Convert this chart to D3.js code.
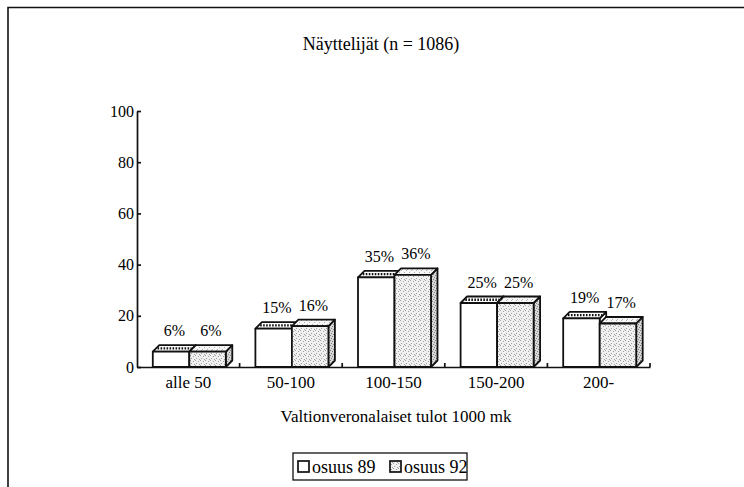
<!DOCTYPE html>
<html>
<head>
<meta charset="utf-8">
<script src="https://cdn.jsdelivr.net/npm/d3@7"></script>
<style>
  body { margin: 0; background: #fff; }
  svg text { font-family: "Liberation Serif", "Times New Roman", "DejaVu Serif", serif; fill: #000; }
</style>
</head>
<body>
<svg id="chart"></svg>
<script>
const categories = ["alle 50", "50-100", "100-150", "150-200", "200-"];
const osuus89 = [6, 15, 35, 25, 19];
const osuus92 = [6, 16, 36, 25, 17];
const seriesNames = ["osuus 89", "osuus 92"];
const yTicks = [0, 20, 40, 60, 80, 100];

const W = 744, H = 487;
const plotLeft = 137, plotRight = 650, plotTop = 111, plotBottom = 367;
const depth = 6.5, barW = 36.5;
const serif = "Liberation Serif, Times New Roman, serif";

const svg = d3.select("#chart").attr("width", W).attr("height", H)
  .attr("font-family", serif);

// stipple patterns for the grey bars
const defs = svg.append("defs");
function stipple(id, bg, dot, pts) {
  const p = defs.append("pattern").attr("id", id)
    .attr("patternUnits", "userSpaceOnUse").attr("width", 5).attr("height", 5);
  p.append("rect").attr("width", 5).attr("height", 5).attr("fill", bg);
  pts.forEach(([x, y]) =>
    p.append("rect").attr("x", x).attr("y", y).attr("width", 1).attr("height", 1).attr("fill", dot));
}
stipple("front92", "#f0f0f0", "#a0a0a0", [[0, 0], [3, 1], [1, 3], [4, 4]]);
stipple("top92", "#f6f6f6", "#b0b0b0", [[1, 0], [4, 2], [2, 4]]);
stipple("side92", "#d8d8d8", "#808080", [[0, 0], [2, 1], [4, 2], [1, 3], [3, 4]]);

// page frame
svg.append("path")
  .attr("d", `M8,${H} V7.5 H${W}`)
  .attr("fill", "none").attr("stroke", "#111").attr("stroke-width", 1.6);

svg.append("text")
  .attr("x", 381).attr("y", 50)
  .attr("text-anchor", "middle").style("font-size", "18px")
  .text("Näyttelijät (n = 1086)");

const x = d3.scaleBand().domain(categories).range([plotLeft, plotRight]);
const y = d3.scaleLinear().domain([0, 100]).range([plotBottom, plotTop]);

// y axis, ticks pointing inward
const yAxis = svg.append("g").attr("transform", `translate(${plotLeft},0)`)
  .call(d3.axisLeft(y).tickValues(yTicks).tickSize(-4).tickSizeOuter(0).tickPadding(3));
yAxis.attr("font-family", serif);
yAxis.select(".domain").attr("stroke", "#111").attr("stroke-width", 1.7);
yAxis.selectAll(".tick line").attr("stroke", "#111").attr("stroke-width", 1.7);
yAxis.selectAll(".tick text").style("font-size", "16px").attr("fill", "#000");

// x axis with labels, ticks at band boundaries
const xAxis = svg.append("g").attr("transform", `translate(0,${plotBottom})`)
  .call(d3.axisBottom(x).tickSize(0).tickPadding(9));
xAxis.attr("font-family", serif);
xAxis.select(".domain").attr("stroke", "#111").attr("stroke-width", 1.7);
xAxis.selectAll(".tick text").style("font-size", "17px").attr("fill", "#000");
xAxis.selectAll("line.sep")
  .data(categories.map(c => x(c) + x.bandwidth()))
  .join("line").attr("class", "sep")
  .attr("x1", d => d).attr("x2", d => d).attr("y1", 0).attr("y2", -4)
  .attr("stroke", "#111").attr("stroke-width", 1.7);

// 3D bars
const bars = svg.append("g");
const series = [osuus89, osuus92];
categories.forEach((c, i) => {
  const cx = x(c) + x.bandwidth() / 2 + 1;
  series.forEach((vals, s) => {
    const x0 = cx - barW + s * barW, x1 = x0 + barW;
    const yt = y(vals[i]);
    const g = bars.append("g").attr("stroke", "#111").attr("stroke-width", 1.8)
      .attr("stroke-linejoin", "round");
    // right side
    g.append("path")
      .attr("d", `M${x1},${plotBottom} V${yt} L${x1 + depth},${yt - depth} V${plotBottom - depth} Z`)
      .attr("fill", s ? "url(#side92)" : "#fff");
    // top
    g.append("path")
      .attr("d", `M${x0},${yt} L${x0 + depth},${yt - depth} H${x1 + depth} L${x1},${yt} Z`)
      .attr("fill", s ? "url(#top92)" : "#fff");
    if (s === 0) {
      g.append("line")
        .attr("x1", x0 + depth / 2 + 1.5).attr("x2", x1 + depth / 2 - 1)
        .attr("y1", yt - depth / 2).attr("y2", yt - depth / 2)
        .attr("stroke-width", 2.4).attr("stroke-dasharray", "1.6,1.4");
    }
    // front
    g.append("rect")
      .attr("x", x0).attr("y", yt).attr("width", barW).attr("height", plotBottom - yt)
      .attr("fill", s ? "url(#front92)" : "#fff");
    // value label
    svg.append("text")
      .attr("x", (x0 + x1) / 2 + depth / 2).attr("y", yt - depth - 9)
      .attr("text-anchor", "middle").style("font-size", "16px")
      .text(vals[i] + "%");
  });
});

svg.append("text")
  .attr("x", 396).attr("y", 422)
  .attr("text-anchor", "middle").style("font-size", "17px")
  .text("Valtionveronalaiset tulot 1000 mk");

// legend
const lg = svg.append("g").attr("transform", "translate(293,453)");
lg.append("rect").attr("width", 174).attr("height", 27)
  .attr("fill", "#fff").attr("stroke", "#111").attr("stroke-width", 1.3);
const fills = ["#fff", "url(#front92)"];
const offs = [5, 97];
seriesNames.forEach((n, i) => {
  lg.append("rect").attr("x", offs[i]).attr("y", 8).attr("width", 11).attr("height", 11)
    .attr("fill", fills[i]).attr("stroke", "#111").attr("stroke-width", 1.7);
  lg.append("text").attr("x", offs[i] + 14).attr("y", 19.5)
    .style("font-size", "18px").text(n);
});
</script>
</body>
</html>
